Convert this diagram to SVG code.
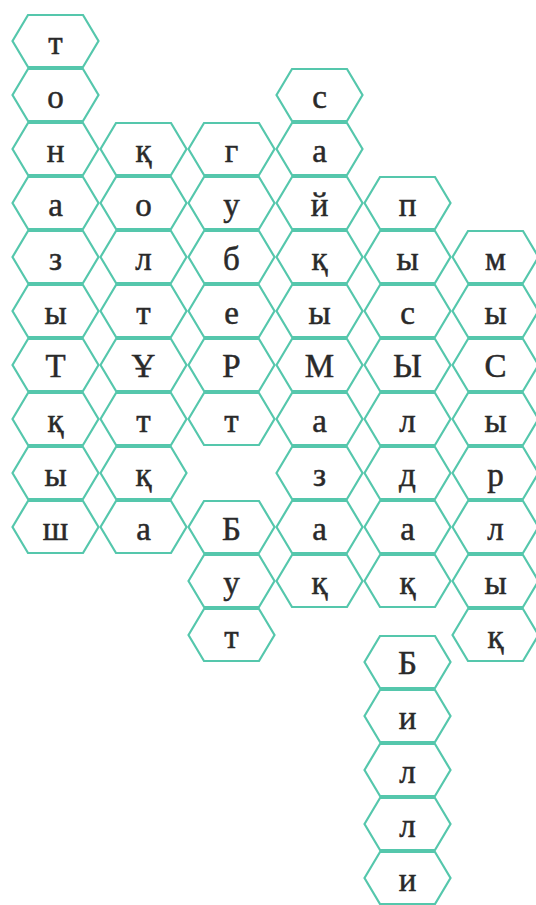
<svg xmlns="http://www.w3.org/2000/svg" width="536" height="905" viewBox="0 0 536 905">
<style>
.hex{fill:#ffffff;stroke:#55c7ac;stroke-width:2.2;stroke-linejoin:miter}
.t{font-family:'Liberation Serif','Times New Roman',serif;font-size:33px;fill:#2a2a2a;stroke:#2a2a2a;stroke-width:0.5;text-anchor:middle}
</style>
<defs>
<polygon id="hx" class="hex" points="-43,0 -27.5,-26 27.5,-26 43,0 27.5,26 -27.5,26"/>
</defs>
<rect width="536" height="905" fill="#ffffff"/>
<g id="connectors"></g>
<g id="nodes">
<g id="c1r0"><use href="#hx" x="55.5" y="41"/><text class="t" x="55.5" y="54">т</text></g>
<g id="c1r1"><use href="#hx" x="55.5" y="95"/><text class="t" x="55.5" y="108">о</text></g>
<g id="c1r2"><use href="#hx" x="55.5" y="149"/><text class="t" x="55.5" y="162">н</text></g>
<g id="c1r3"><use href="#hx" x="55.5" y="203"/><text class="t" x="55.5" y="216">а</text></g>
<g id="c1r4"><use href="#hx" x="55.5" y="257"/><text class="t" x="55.5" y="270">з</text></g>
<g id="c1r5"><use href="#hx" x="55.5" y="311"/><text class="t" x="55.5" y="324">ы</text></g>
<g id="c1r6"><use href="#hx" x="55.5" y="365"/><text class="t" x="55.5" y="377">Т</text></g>
<g id="c1r7"><use href="#hx" x="55.5" y="419"/><text class="t" x="55.5" y="432">қ</text></g>
<g id="c1r8"><use href="#hx" x="55.5" y="473"/><text class="t" x="55.5" y="486">ы</text></g>
<g id="c1r9"><use href="#hx" x="55.5" y="527"/><text class="t" x="55.5" y="540">ш</text></g>
<g id="c2r2"><use href="#hx" x="143.5" y="149"/><text class="t" x="143.5" y="162">қ</text></g>
<g id="c2r3"><use href="#hx" x="143.5" y="203"/><text class="t" x="143.5" y="216">о</text></g>
<g id="c2r4"><use href="#hx" x="143.5" y="257"/><text class="t" x="143.5" y="270">л</text></g>
<g id="c2r5"><use href="#hx" x="143.5" y="311"/><text class="t" x="143.5" y="324">т</text></g>
<g id="c2r6"><use href="#hx" x="143.5" y="365"/><text class="t" x="143.5" y="377">Ұ</text></g>
<g id="c2r7"><use href="#hx" x="143.5" y="419"/><text class="t" x="143.5" y="432">т</text></g>
<g id="c2r8"><use href="#hx" x="143.5" y="473"/><text class="t" x="143.5" y="486">қ</text></g>
<g id="c2r9"><use href="#hx" x="143.5" y="527"/><text class="t" x="143.5" y="540">а</text></g>
<g id="c3r2"><use href="#hx" x="231.5" y="149"/><text class="t" x="231.5" y="162">г</text></g>
<g id="c3r3"><use href="#hx" x="231.5" y="203"/><text class="t" x="231.5" y="216">у</text></g>
<g id="c3r4"><use href="#hx" x="231.5" y="257"/><text class="t" x="231.5" y="270">б</text></g>
<g id="c3r5"><use href="#hx" x="231.5" y="311"/><text class="t" x="231.5" y="324">е</text></g>
<g id="c3r6"><use href="#hx" x="231.5" y="365"/><text class="t" x="231.5" y="377">Р</text></g>
<g id="c3r7"><use href="#hx" x="231.5" y="419"/><text class="t" x="231.5" y="432">т</text></g>
<g id="c3r9"><use href="#hx" x="231.5" y="527"/><text class="t" x="231.5" y="540">Б</text></g>
<g id="c3r10"><use href="#hx" x="231.5" y="581"/><text class="t" x="231.5" y="594">у</text></g>
<g id="c3r11"><use href="#hx" x="231.5" y="635"/><text class="t" x="231.5" y="648">т</text></g>
<g id="c4r1"><use href="#hx" x="319.5" y="95"/><text class="t" x="319.5" y="108">с</text></g>
<g id="c4r2"><use href="#hx" x="319.5" y="149"/><text class="t" x="319.5" y="162">а</text></g>
<g id="c4r3"><use href="#hx" x="319.5" y="203"/><text class="t" x="319.5" y="216">й</text></g>
<g id="c4r4"><use href="#hx" x="319.5" y="257"/><text class="t" x="319.5" y="270">қ</text></g>
<g id="c4r5"><use href="#hx" x="319.5" y="311"/><text class="t" x="319.5" y="324">ы</text></g>
<g id="c4r6"><use href="#hx" x="319.5" y="365"/><text class="t" x="319.5" y="377">М</text></g>
<g id="c4r7"><use href="#hx" x="319.5" y="419"/><text class="t" x="319.5" y="432">а</text></g>
<g id="c4r8"><use href="#hx" x="319.5" y="473"/><text class="t" x="319.5" y="486">з</text></g>
<g id="c4r9"><use href="#hx" x="319.5" y="527"/><text class="t" x="319.5" y="540">а</text></g>
<g id="c4r10"><use href="#hx" x="319.5" y="581"/><text class="t" x="319.5" y="594">қ</text></g>
<g id="c5r3"><use href="#hx" x="407.5" y="203"/><text class="t" x="407.5" y="216">п</text></g>
<g id="c5r4"><use href="#hx" x="407.5" y="257"/><text class="t" x="407.5" y="270">ы</text></g>
<g id="c5r5"><use href="#hx" x="407.5" y="311"/><text class="t" x="407.5" y="324">с</text></g>
<g id="c5r6"><use href="#hx" x="407.5" y="365"/><text class="t" x="407.5" y="377">Ы</text></g>
<g id="c5r7"><use href="#hx" x="407.5" y="419"/><text class="t" x="407.5" y="432">л</text></g>
<g id="c5r8"><use href="#hx" x="407.5" y="473"/><text class="t" x="407.5" y="486">д</text></g>
<g id="c5r9"><use href="#hx" x="407.5" y="527"/><text class="t" x="407.5" y="540">а</text></g>
<g id="c5r10"><use href="#hx" x="407.5" y="581"/><text class="t" x="407.5" y="594">қ</text></g>
<g id="c5b1"><use href="#hx" x="407.5" y="662"/><text class="t" x="407.5" y="674">Б</text></g>
<g id="c5b2"><use href="#hx" x="407.5" y="716"/><text class="t" x="407.5" y="729">и</text></g>
<g id="c5b3"><use href="#hx" x="407.5" y="770"/><text class="t" x="407.5" y="783">л</text></g>
<g id="c5b4"><use href="#hx" x="407.5" y="824"/><text class="t" x="407.5" y="837">л</text></g>
<g id="c5b5"><use href="#hx" x="407.5" y="878"/><text class="t" x="407.5" y="891">и</text></g>
<g id="c6r4"><use href="#hx" x="495.5" y="257"/><text class="t" x="495.5" y="270">м</text></g>
<g id="c6r5"><use href="#hx" x="495.5" y="311"/><text class="t" x="495.5" y="324">ы</text></g>
<g id="c6r6"><use href="#hx" x="495.5" y="365"/><text class="t" x="495.5" y="377">С</text></g>
<g id="c6r7"><use href="#hx" x="495.5" y="419"/><text class="t" x="495.5" y="432">ы</text></g>
<g id="c6r8"><use href="#hx" x="495.5" y="473"/><text class="t" x="495.5" y="486">р</text></g>
<g id="c6r9"><use href="#hx" x="495.5" y="527"/><text class="t" x="495.5" y="540">л</text></g>
<g id="c6r10"><use href="#hx" x="495.5" y="581"/><text class="t" x="495.5" y="594">ы</text></g>
<g id="c6r11"><use href="#hx" x="495.5" y="635"/><text class="t" x="495.5" y="648">қ</text></g>
</g>
</svg>
